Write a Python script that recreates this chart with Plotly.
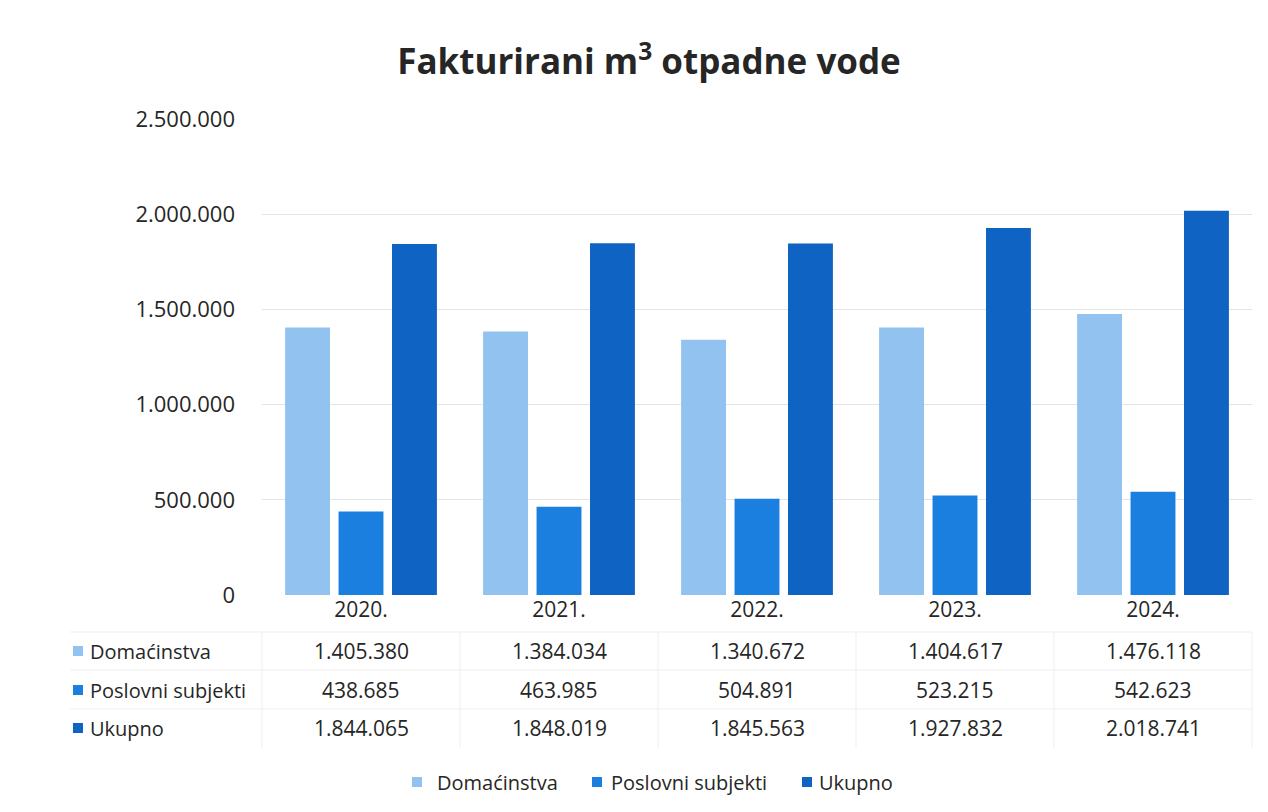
import plotly.graph_objects as go

years = ["2020.", "2021.", "2022.", "2023.", "2024."]
series_names = ["Domaćinstva", "Poslovni subjekti", "Ukupno"]
domacinstva = [1405380, 1384034, 1340672, 1404617, 1476118]
poslovni = [438685, 463985, 504891, 523215, 542623]
ukupno = [1844065, 1848019, 1845563, 1927832, 2018741]
y_ticks = [0, 500000, 1000000, 1500000, 2000000, 2500000]

colors = ["#92c3f0", "#1b7fe0", "#0f63c2"]
values = [domacinstva, poslovni, ukupno]

FONT = "Open Sans"
TXT = "#262626"
FS = 20

def fmt(v):
    return f"{v:,}".replace(",", ".")

fig = go.Figure()
for name, vals, col in zip(series_names, values, colors):
    fig.add_trace(go.Bar(x=years, y=vals, name=name, showlegend=False,
                         marker=dict(color=col, line=dict(width=0))))

OFF = 8  # page body margin
W, H = 1252, 796
L, T = 262 - OFF, 119 - OFF
R = W - (1252 - OFF)
B = H - (595 - OFF)
plot_w = W - L - R
plot_h = H - T - B

def py(pix):
    return (595 - pix) / plot_h

def px(pix):
    return (pix - OFF - L) / plot_w

annotations = []
shapes = []
row_y = [651, 690, 728]
for i, (name, vals, col) in enumerate(zip(series_names, values, colors)):
    yy = py(row_y[i])
    annotations.append(dict(x=px(88), y=yy, xref="paper", yref="paper", text=name,
                            showarrow=False, xanchor="left", yanchor="middle",
                            font=dict(family=FONT, size=FS, color=TXT)))
    s = 10
    shapes.append(dict(type="rect", xref="paper", yref="paper",
                       x0=px(73), x1=px(73 + s), y0=py(row_y[i] + s / 2), y1=py(row_y[i] - s / 2),
                       fillcolor=col, line=dict(width=0)))
    for j, v in enumerate(vals):
        annotations.append(dict(x=(j + 0.5) / len(years), y=yy, xref="paper", yref="paper", text=fmt(v),
                                showarrow=False, xanchor="center", yanchor="middle",
                                font=dict(family=FONT, size=21, color=TXT)))

# faint table grid lines
grid_col = "#efefef"
for yline in [632, 670, 709]:
    shapes.append(dict(type="line", xref="paper", yref="paper", x0=px(70), x1=1.0,
                       y0=py(yline), y1=py(yline), line=dict(color=grid_col, width=1)))
for k in range(0, 6):
    xp = k / 5
    shapes.append(dict(type="line", xref="paper", yref="paper", x0=xp, x1=xp,
                       y0=py(632), y1=py(748), line=dict(color=grid_col, width=1)))

# legend (bottom)
leg_y = py(782)
leg_items = [(412, 435), (592, 609), (802, 817)]
for (sx, tx), name, col in zip(leg_items, series_names, colors):
    shapes.append(dict(type="rect", xref="paper", yref="paper",
                       x0=px(sx), x1=px(sx + 10), y0=py(787), y1=py(777),
                       fillcolor=col, line=dict(width=0)))
    annotations.append(dict(x=px(tx), y=leg_y, xref="paper", yref="paper", text=name,
                            showarrow=False, xanchor="left", yanchor="middle",
                            font=dict(family=FONT, size=FS, color=TXT)))

fig.update_layout(
    width=W, height=H,
    margin=dict(l=L, r=R, t=T, b=B),
    paper_bgcolor="white", plot_bgcolor="white",
    separators=",.",
    barmode="group", bargap=0.19, bargroupgap=0.16,
    title=dict(text="<b>Fakturirani m<sup>3</sup> otpadne vode</b>", x=(649 - OFF) / W, xref="container",
               xanchor="center", y=1 - (62 - OFF) / H, yanchor="middle",
               font=dict(family=FONT, size=35, color=TXT)),
    font=dict(family=FONT, size=FS, color=TXT),
    showlegend=False,
    annotations=annotations,
    shapes=shapes,
)
fig.update_xaxes(type="category", range=[-0.5, len(years) - 0.5], showgrid=False, showline=False, ticks="",
                 tickfont=dict(family=FONT, size=21, color=TXT))
fig.update_yaxes(range=[0, 2500000], tickvals=y_ticks, tickformat=",d",
                 showgrid=True, gridcolor="#e4e4e4", gridwidth=1, zeroline=False,
                 showline=False, ticks="", ticklabelstandoff=26,
                 tickfont=dict(family=FONT, size=22, color=TXT))

fig.write_html("out.html")
